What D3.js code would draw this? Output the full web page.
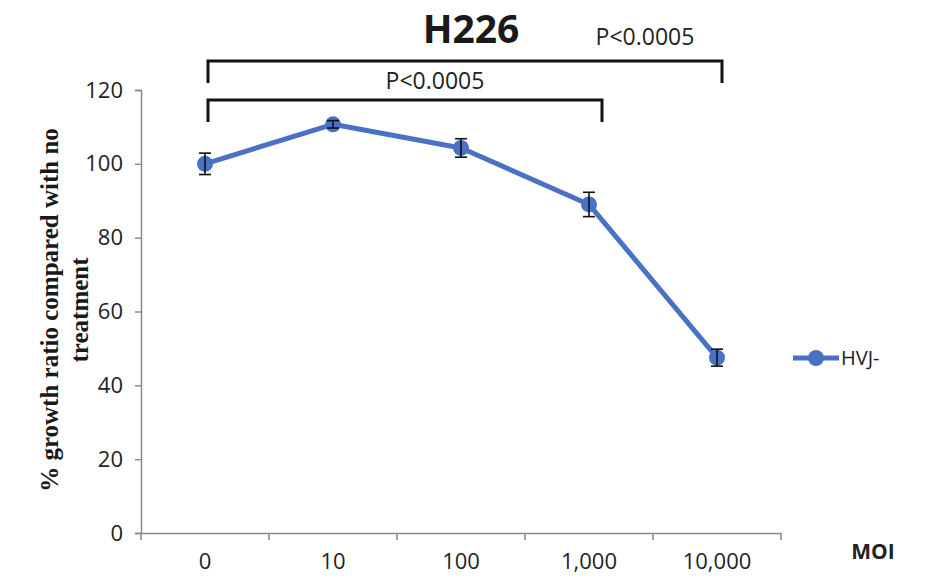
<!DOCTYPE html>
<html>
<head>
<meta charset="utf-8">
<script src="https://cdn.jsdelivr.net/npm/d3@7"></script>
<style>
  html, body { margin: 0; padding: 0; background: #fff; }
  svg { display: block; }
</style>
</head>
<body>
<svg id="chart" width="928" height="587"></svg>
<script>
// MOI categories and growth ratio (% of untreated) with error bars
const moiLabels = ["0", "10", "100", "1,000", "10,000"];
const growth = [100, 110.7, 104.3, 89, 47.5];
const growthErr = [2.9, 1, 2.5, 3.3, 2.3];
const yTicks = [0, 20, 40, 60, 80, 100, 120];
const seriesName = "HVJ-";

// Significance brackets between MOI groups
const brackets = [
  { from: "0", to: "10,000", label: "P<0.0005", level: 0 },
  { from: "0", to: "1,000", label: "P<0.0005", level: 1 }
];

const svg = d3.select("#chart");
const plot = { left: 141, right: 781, top: 90, bottom: 533 };
const blue = "#4a72c4";
const axisGray = "#8a8a8a";
const sans = "'Open Sans', 'Noto Sans', sans-serif";

const x = d3.scaleBand().domain(moiLabels).range([plot.left, plot.right]).padding(0);
const xc = d => x(d) + x.bandwidth() / 2;
const y = d3.scaleLinear().domain([0, 120]).range([plot.bottom, plot.top]);

// Y axis
const yAxis = svg.append("g")
  .attr("transform", `translate(${plot.left},0)`)
  .call(d3.axisLeft(y).tickValues(yTicks).tickSize(6).tickPadding(12));
yAxis.select(".domain").attr("stroke", axisGray).attr("stroke-width", 1.5);
yAxis.selectAll(".tick line").attr("stroke", axisGray).attr("stroke-width", 1.5);
yAxis.selectAll(".tick text")
  .attr("font-family", sans).attr("font-size", 22).attr("fill", "#222");

// X axis: ticks sit on category boundaries
const xAxis = svg.append("g")
  .attr("transform", `translate(0,${plot.bottom})`)
  .call(d3.axisBottom(x).tickSize(0).tickPadding(16));
xAxis.select(".domain").attr("stroke", axisGray).attr("stroke-width", 1.5);
xAxis.selectAll(".tick text")
  .attr("font-family", sans).attr("font-size", 22).attr("fill", "#222")
  .attr("dy", "0.9em");
const boundaries = moiLabels.map(d => x(d)).concat([x(moiLabels[moiLabels.length - 1]) + x.bandwidth()]);
svg.append("g").selectAll("line").data(boundaries).join("line")
  .attr("x1", d => d).attr("x2", d => d)
  .attr("y1", plot.bottom).attr("y2", plot.bottom + 7)
  .attr("stroke", axisGray).attr("stroke-width", 1.5);

// Series line
const pts = moiLabels.map((m, i) => ({ m, v: growth[i], e: growthErr[i] }));
svg.append("path")
  .datum(pts)
  .attr("fill", "none")
  .attr("stroke", blue)
  .attr("stroke-width", 5)
  .attr("stroke-linejoin", "round")
  .attr("d", d3.line().x(d => xc(d.m)).y(d => y(d.v)));

// Markers
svg.append("g").selectAll("circle").data(pts).join("circle")
  .attr("cx", d => xc(d.m)).attr("cy", d => y(d.v)).attr("r", 8)
  .attr("fill", blue);

// Error bars
const eb = svg.append("g").attr("stroke", "#111").attr("stroke-width", 1.6);
pts.forEach(d => {
  const cx = xc(d.m), y0 = y(d.v - d.e), y1 = y(d.v + d.e);
  eb.append("line").attr("x1", cx).attr("x2", cx).attr("y1", y0).attr("y2", y1);
  eb.append("line").attr("x1", cx - 6).attr("x2", cx + 6).attr("y1", y0).attr("y2", y0);
  eb.append("line").attr("x1", cx - 6).attr("x2", cx + 6).attr("y1", y1).attr("y2", y1);
});

// Significance brackets
const bracketTop = [61, 100];
const legLen = 22;
brackets.forEach(b => {
  const x0 = xc(b.from) + 3;
  const x1 = xc(b.to) + (b.level === 0 ? 5 : 13);
  const yt = bracketTop[b.level];
  svg.append("path")
    .attr("d", `M${x0},${yt + legLen}V${yt}H${x1}V${yt + legLen}`)
    .attr("fill", "none").attr("stroke", "#111").attr("stroke-width", 3);
});
// Bracket labels
svg.append("text")
  .attr("x", 645).attr("y", 45)
  .attr("text-anchor", "middle")
  .attr("font-family", sans).attr("font-size", 23).attr("fill", "#222")
  .text(brackets[0].label);
svg.append("text")
  .attr("x", 435).attr("y", 89)
  .attr("text-anchor", "middle")
  .attr("font-family", sans).attr("font-size", 23).attr("fill", "#222")
  .text(brackets[1].label);

// Title
svg.append("text")
  .attr("x", 471).attr("y", 43)
  .attr("text-anchor", "middle")
  .attr("font-family", sans).attr("font-weight", "bold").attr("font-size", 39)
  .attr("fill", "#1a1a1a")
  .text("H226");

// Y axis title (two lines, rotated)
const yTitle = svg.append("text")
  .attr("transform", "translate(0,310) rotate(-90)")
  .attr("text-anchor", "middle")
  .attr("font-family", "'Liberation Serif', 'Times New Roman', serif")
  .attr("font-weight", "bold").attr("font-size", 25).attr("fill", "#1a1a1a");
yTitle.append("tspan").attr("x", 0).attr("y", 58).text("% growth ratio compared with no");
yTitle.append("tspan").attr("x", 0).attr("y", 88).text("treatment");

// X axis title
svg.append("text")
  .attr("x", 873).attr("y", 559)
  .attr("text-anchor", "middle")
  .attr("font-family", sans).attr("font-weight", "bold").attr("font-size", 21)
  .attr("fill", "#222")
  .text("MOI");

// Legend
const lg = svg.append("g").attr("transform", "translate(793,358)");
lg.append("line").attr("x1", 0).attr("x2", 46).attr("y1", 0).attr("y2", 0)
  .attr("stroke", blue).attr("stroke-width", 5);
lg.append("circle").attr("cx", 23).attr("cy", 0).attr("r", 8).attr("fill", blue);
lg.append("text").attr("x", 48).attr("y", 0).attr("dy", "0.35em")
  .attr("font-family", sans).attr("font-size", 20).attr("fill", "#222")
  .text(seriesName);
</script>
</body>
</html>
